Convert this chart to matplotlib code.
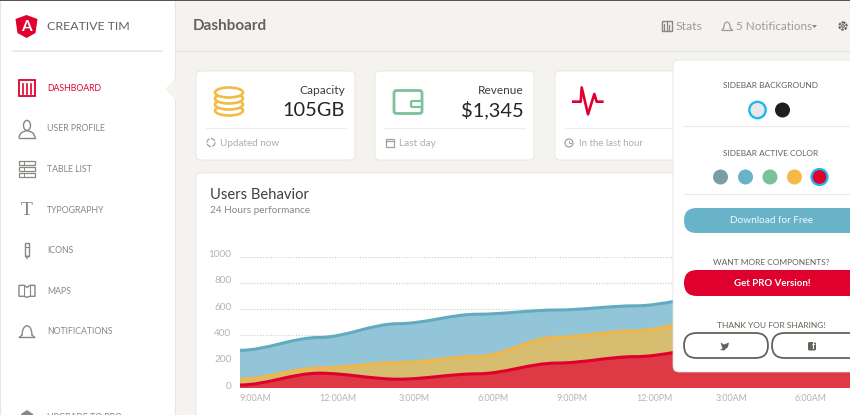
import matplotlib
matplotlib.use("Agg")
import matplotlib.pyplot as plt
from matplotlib.path import Path
from matplotlib.patches import PathPatch, FancyBboxPatch, Circle, Polygon, Rectangle, Ellipse, Arc
from matplotlib.transforms import ScaledTranslation

plt.rcParams['font.family'] = ['Lato', 'DejaVu Sans']

# ---------- data ----------
time_labels = ['9:00AM', '12:00AM', '3:00PM', '6:00PM', '9:00PM', '12:00PM', '3:00AM', '6:00AM']
series_blue = [287, 385, 490, 562, 594, 626, 698, 895, 952]
series_yellow = [67, 152, 193, 240, 387, 435, 535, 642, 744]
series_red = [23, 113, 67, 108, 190, 239, 307, 410, 410]
y_ticks = [0, 200, 400, 600, 800, 1000]
nav_items = ['DASHBOARD', 'USER PROFILE', 'TABLE LIST', 'TYPOGRAPHY', 'ICONS', 'MAPS', 'NOTIFICATIONS']
card_titles = ['Capacity', 'Revenue']
card_values = ['105GB', '$1,345']
card_footers = ['Updated now', 'Last day', 'In the last hour']
swatch_colors = ['#7A9E9F', '#68B3C8', '#7AC29A', '#F3BB45', '#E0002D']

W, H = 850, 415
GREY = '#8A8780'
fig = plt.figure(figsize=(W / 100, H / 100), dpi=100, facecolor='#F4F3EF')
bg = fig.add_axes([0, 0, 1, 1], zorder=0)
bg.set_xlim(0, W); bg.set_ylim(H, 0); bg.axis('off')


def card(ax, x0, y0, x1, y1, r=5, fc='white', ec='#E6E4DE', lw=0.6, z=2):
    p = FancyBboxPatch((x0 + r, y0 + r), x1 - x0 - 2 * r, y1 - y0 - 2 * r,
                       boxstyle=f'round,pad={r},rounding_size={r}', fc=fc, ec=ec, lw=lw, zorder=z)
    ax.add_patch(p)
    return p


def bell(ax, cx, cy, w, h, col, lw=0.9, z=4):
    ax.add_patch(Arc((cx, cy + h * 0.28), w * 0.66, h * 1.25, theta1=180, theta2=360, ec=col, lw=lw, zorder=z))
    ax.plot([cx - w / 2, cx - w * 0.33], [cy + h * 0.42, cy + h * 0.28], color=col, lw=lw, zorder=z)
    ax.plot([cx + w / 2, cx + w * 0.33], [cy + h * 0.42, cy + h * 0.28], color=col, lw=lw, zorder=z)
    ax.plot([cx - w / 2, cx + w / 2], [cy + h * 0.42, cy + h * 0.42], color=col, lw=lw, zorder=z)


# page furniture
bg.add_patch(Rectangle((0, 0), W, 1.3, fc='#555555', ec='none', zorder=5))
bg.add_patch(Rectangle((0, 0), 175, H, fc='white', ec='#E8E6E0', lw=0.8, zorder=1))
bg.plot([176, W], [51, 51], color='#E6E4DE', lw=1)
bg.plot([13, 162], [51, 51], color='#E8E6E2', lw=1.2, zorder=3)
bg.add_patch(Polygon([[176, 78], [165, 89], [176, 100]], fc='#F4F3EF', ec='none', zorder=3))
bg.add_patch(Polygon([[26.5, 15], [37.5, 19], [35.5, 33], [26.5, 38], [17.5, 33], [15.5, 19]], fc='#E0002D', ec='none', zorder=3))
bg.text(26.5, 27, 'A', color='white', fontsize=11, fontweight='bold', ha='center', va='center', zorder=4)
bg.text(47, 26.5, 'CREATIVE TIM', color='#66615B', fontsize=8.9, va='center', zorder=4)
bg.text(193, 25.5, 'Dashboard', color='#66615B', fontsize=11, fontweight='bold', va='center')
bg.text(675.5, 26.5, 'Stats', color='#A09D97', fontsize=8.8, va='center')
bg.text(736, 26.5, '5 Notifications', color='#A09D97', fontsize=8.4, va='center')
bg.add_patch(Polygon([[812, 25], [817, 25], [814.5, 28]], fc='#8A8780', ec='none'))
bg.add_patch(Rectangle((662, 21), 10, 10, fc='none', ec='#8A8780', lw=1))
for dx, top in zip((664.5, 667, 669.5), (24, 22.5, 25)):
    bg.plot([dx, dx], [top, 30], color='#8A8780', lw=0.9)
bell(bg, 727, 25.5, 10, 10, '#A09D97')
bg.add_patch(Circle((843, 26), 3.6, fc='none', ec='#66615B', lw=1.5, ls=(0, (1.2, 0.5))))
bg.add_patch(Circle((843, 26), 1.3, fc='none', ec='#66615B', lw=0.8))

# sidebar
for i, item in enumerate(nav_items):
    yy = 88.3 + i * 40.6
    col = '#E0002D' if i == 0 else GREY
    bg.text(47, yy, item, color=col, fontsize=6.3, va='center', zorder=4)
    if i == 0:
        bg.add_patch(Rectangle((19, 80.5), 16, 16, fc='none', ec=col, lw=1.3, zorder=4))
        for dx in (23, 27, 31):
            bg.plot([dx, dx], [84, 94], color=col, lw=1.2, zorder=4)
    if i == 1:
        bg.add_patch(Ellipse((27, yy - 3.5), 7, 10, fc='none', ec=col, lw=1, zorder=4))
        bg.add_patch(Arc((27, yy + 9), 16, 14, theta1=180, theta2=360, ec=col, lw=1, zorder=4))
        bg.plot([19, 35], [yy + 9, yy + 9], color=col, lw=1, zorder=4)
    if i == 2:
        for k in range(3):
            bg.add_patch(Rectangle((19, yy - 8 + k * 6), 16, 4, fc='none', ec=col, lw=0.9, zorder=4))
            bg.plot([24, 24], [yy - 8 + k * 6, yy - 4 + k * 6], color=col, lw=0.7, zorder=4)
    if i == 3:
        bg.text(27, yy, 'T', color=col, fontsize=14, family='Liberation Serif', ha='center', va='center', zorder=4)
    if i == 4:
        bg.add_patch(Rectangle((25, yy - 8), 4, 13, fc='none', ec=col, lw=1, zorder=4))
        bg.add_patch(Polygon([[25, yy + 5], [29, yy + 5], [27, yy + 9]], fc=col, ec='none', zorder=4))
        bg.plot([25, 29], [yy - 4, yy - 4], color=col, lw=0.8, zorder=4)
    if i == 5:
        bg.add_patch(Polygon([[19, yy - 6], [24, yy - 6], [27, yy - 4], [30, yy - 6], [35, yy - 6],
                              [35, yy + 5], [30, yy + 5], [27, yy + 6], [24, yy + 5], [19, yy + 5]],
                             fc='none', ec=col, lw=1, zorder=4))
        bg.plot([24, 24], [yy - 6, yy + 5], color=col, lw=0.8, zorder=4)
        bg.plot([30, 30], [yy - 6, yy + 5], color=col, lw=0.8, zorder=4)
    if i == 6:
        bell(bg, 27, yy - 1, 15, 15, col, lw=1)
bg.add_patch(Polygon([[27, 410], [33, 414], [33, 415], [21, 415], [21, 414]], fc=GREY, ec='none', zorder=4))
bg.text(47, 417, 'UPGRADE TO PRO', color=GREY, fontsize=6.3, va='center', zorder=4, clip_on=True)

# stat cards
cards = [(196, 355), (375, 534), (555, 690)]
footer_sizes = [7.1, 7.3, 6.9]
for (x0, x1) in cards:
    card(bg, x0, 71, x1, 160)
for i, (x0, x1) in enumerate(cards):
    bg.plot([x0 + 10, x1 - 9], [128, 128], color='#EEEDE9', lw=0.9, zorder=3)
    bg.text(x0 + 24, 143, card_footers[i], color='#B0ADA7', fontsize=footer_sizes[i], va='center', zorder=3)
bg.add_patch(Circle((211, 142.5), 4, fc='none', ec='#A5A29C', lw=0.9, ls=(0, (4, 1)), zorder=3))
bg.add_patch(Rectangle((386, 139), 8, 8, fc='none', ec='#A5A29C', lw=0.9, zorder=3))
bg.plot([386, 394], [141.5, 141.5], color='#A5A29C', lw=0.9, zorder=3)
bg.add_patch(Circle((569, 143), 4, fc='none', ec='#A5A29C', lw=0.9, zorder=3))
bg.plot([569, 569, 571], [141, 143, 143], color='#A5A29C', lw=0.7, zorder=3)
for i in range(2):
    x1 = cards[i][1]
    bg.text(x1 - 10, 90, card_titles[i], color='#403D39', fontsize=8.6, ha='right', va='center', zorder=3)
    bg.text(x1 - 10, 110.5, card_values[i], color='#252422', fontsize=14.4, ha='right', va='center', zorder=3)
for k, dy in enumerate((18, 12, 6, 0)):
    bg.add_patch(Ellipse((229, 92.5 + dy), 28, 10, fc='white', ec='#F3BB45', lw=1.9, zorder=3 + k / 100))
bg.add_patch(FancyBboxPatch((394, 90.5), 28, 23, boxstyle='round,pad=0,rounding_size=2.5', fc='none', ec='#7AC29A', lw=2, zorder=3))
bg.add_patch(FancyBboxPatch((411, 101), 11, 6, boxstyle='round,pad=0,rounding_size=1.5', fc='white', ec='#7AC29A', lw=1.6, zorder=3))
bg.plot([573.3, 580.7, 581.7, 588, 594.3, 596.7, 602.3],
        [101.7, 101.7, 87.5, 114.3, 94, 101.7, 101.7], color='#E0002D', lw=1.9, zorder=3)

# chart card
card(bg, 196, 173, W + 20, H + 20)
bg.text(210, 195, 'Users Behavior', color='#403D39', fontsize=10.6, va='center', zorder=3)
bg.text(210, 210, '24 Hours performance', color=GREY, fontsize=7.2, va='center', zorder=3)

# ---------- chart ----------
X0, STEP, Y0, Y1000 = 240, 79.2, 388, 256.7
ax = fig.add_axes([X0 / W, 1 - Y0 / H, (W - X0) / W, (Y0 - Y1000) / H], zorder=2)
ax.patch.set_alpha(0)
ax.set_xlim(0, (W - X0) / STEP)
ax.set_ylim(0, 1000)
for s in ax.spines.values():
    s.set_visible(False)


def smooth_path(values, divisor=3.0, closed=False):
    verts = [(0, values[0])]
    codes = [Path.MOVETO]
    for i in range(1, len(values)):
        px, py, cx, cy = i - 1, values[i - 1], i, values[i]
        d = (cx - px) / divisor
        verts += [(px + d, py), (cx - d, cy), (cx, cy)]
        codes += [Path.CURVE4] * 3
    if closed:
        verts += [(len(values) - 1, 0), (0, 0), (0, values[0])]
        codes += [Path.LINETO, Path.LINETO, Path.CLOSEPOLY]
    return Path(verts, codes)


styles = [(series_blue, '#93C5D8', '#62ABBF'),
          (series_yellow, '#D7BD70', '#F0B648'),
          (series_red, '#DD3A45', '#E0002D')]
for k, (vals, fill, line) in enumerate(styles):
    ax.add_patch(PathPatch(smooth_path(vals, closed=True), fc=fill, ec='none', zorder=3 + k * 2))
    ax.add_patch(PathPatch(smooth_path(vals), fc='none', ec=line, lw=2.2, zorder=4 + k * 2, capstyle='butt'))

ax.set_yticks(y_ticks)
ax.set_yticklabels([str(v) for v in y_ticks])
ax.set_xticks(range(len(time_labels)))
ax.set_xticklabels(time_labels, ha='left')
ax.tick_params(axis='x', length=0, labelsize=6.4, labelcolor='#B5B3AE', pad=4)
ax.tick_params(axis='y', length=0, labelsize=7.2, labelcolor='#B5B3AE', pad=6)
for t in ax.get_yticklabels():
    t.set_transform(t.get_transform() + ScaledTranslation(0, 3 / 100, fig.dpi_scale_trans))
ax.grid(False)
for v in y_ticks[1:]:
    ax.axhline(v, color='#CFCDC8', lw=0.8, ls=(0, (1, 1.5)), zorder=1)

# ---------- overlay panel ----------
ov = fig.add_axes([0, 0, 1, 1], zorder=3)
ov.set_xlim(0, W); ov.set_ylim(H, 0); ov.axis('off'); ov.patch.set_alpha(0)
card(ov, 673, 60, W + 20, 372, r=6, ec='#E4E2DD', lw=0.5, z=2)
PC = 771


def ptext(y, s, col='#66615B', fs=6.0, **kw):
    ov.text(PC, y, s, color=col, fontsize=fs, ha='center', va='center', zorder=5, **kw)


ptext(86, 'SIDEBAR BACKGROUND')
ptext(153, 'SIDEBAR ACTIVE COLOR')
ptext(262.5, 'WANT MORE COMPONENTS?')
ptext(325.5, 'THANK YOU FOR SHARING!')
ov.plot([684, W], [126.5, 126.5], color='#EDEBE7', lw=0.9, zorder=3)
ov.plot([684, W], [193.5, 193.5], color='#EDEBE7', lw=0.9, zorder=3)
ov.add_patch(Circle((757.5, 110), 8.2, fc='#E8E8E8', ec='#1DB8EE', lw=1.7, zorder=4))
ov.add_patch(Circle((782.5, 110), 7.5, fc='#1E1E1E', ec='none', zorder=4))
for cx, col in zip([720.5, 745.5, 770, 794.5, 819.5], swatch_colors):
    is_active = col == swatch_colors[-1]
    ov.add_patch(Circle((cx, 177), 8 if is_active else 7.5, fc=col, ec='#1DB8EE' if is_active else 'none', lw=1.6, zorder=4))


def pill(x0, x1, y0, y1, fc, ec='none', lw=0):
    r = (y1 - y0) / 2
    ov.add_patch(FancyBboxPatch((x0 + r, y0 + r), x1 - x0 - 2 * r, 0.01,
                                boxstyle=f'round,pad={r},rounding_size={r}', fc=fc, ec=ec, lw=lw, zorder=4))


pill(684, 880, 208, 233, '#68B3C8')
pill(684, 880, 270, 296, '#E0002D')
pill(684, 768, 333, 358, 'white', '#66615B', 1.3)
pill(772, 880, 333, 358, 'white', '#66615B', 1.3)
ov.text(771.5, 220.5, 'Download for Free', color='#F2F8FA', fontsize=7.2, ha='center', va='center', zorder=5)
ov.text(772, 283, 'Get PRO Version!', color='white', fontsize=6.9, ha='center', va='center', zorder=5, fontweight='bold')
# twitter and facebook glyphs
ov.add_patch(Polygon([[720.5, 342.5], [724, 344.5], [729, 342.5], [728, 347], [724, 350.5], [720, 350], [722.5, 348.5]],
                     fc='#66615B', ec='none', zorder=5))
ov.add_patch(FancyBboxPatch((808, 342), 8, 8.5, boxstyle='round,pad=0,rounding_size=1.5', fc='#66615B', ec='none', zorder=5))
ov.text(813, 346.5, 'f', color='white', fontsize=6.5, fontweight='bold', ha='center', va='center', zorder=6)

fig.savefig('out.png', dpi=100, facecolor=fig.get_facecolor())
